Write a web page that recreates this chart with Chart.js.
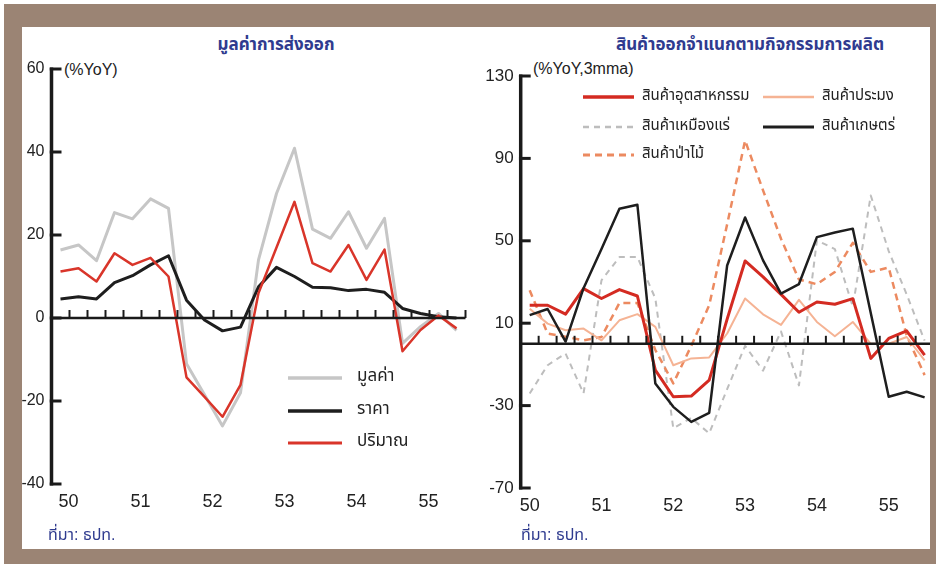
<!DOCTYPE html>
<html lang="th">
<head>
<meta charset="utf-8">
<title>การส่งออก</title>
<script src="https://cdn.jsdelivr.net/npm/chart.js@4.4.1/dist/chart.umd.min.js"></script>
<style>
  html, body { margin: 0; padding: 0; background: #fff; }
  body { width: 936px; height: 564px; position: relative; overflow: hidden;
         font-family: "Liberation Sans", Arial, "Noto Sans Thai", Loma, Garuda, sans-serif; }
  #frame { position: absolute; left: 4px; top: 4px; width: 932px; height: 560px; background: #9b8474; }
  #panel { position: absolute; left: 22px; top: 27px; width: 908px; height: 522px; background: #fff; }
  canvas { position: absolute; top: 0; }
  #c1 { left: 0; }
  #c2 { left: 470px; }
  .title { position: absolute; font-weight: bold; color: #2f3b8f; font-size: 17px; line-height: 20px;
           white-space: nowrap; text-align: center; }
  .unit { position: absolute; color: #222; font-size: 16px; line-height: 20px; white-space: nowrap; }
  .src { position: absolute; color: #2f3b8f; font-size: 16px; line-height: 20px; white-space: nowrap; }
</style>
</head>
<body>
<div id="frame"></div>
<div id="panel"></div>
<div class="title" style="left:156px; top:35px; width:240px;">มูลค่าการส่งออก</div>
<div class="title" style="left:590px; top:35px; width:320px;">สินค้าออกจำแนกตามกิจกรรมการผลิต</div>
<div class="unit" style="left:64px; top:60px;">(%YoY)</div>
<div class="unit" style="left:533px; top:59px;">(%YoY,3mma)</div>
<canvas id="c1" width="470" height="564"></canvas>
<canvas id="c2" width="466" height="564"></canvas>
<div class="src" style="left:48px; top:525px;">ที่มา: ธปท.</div>
<div class="src" style="left:521px; top:525px;">ที่มา: ธปท.</div>

<script>
// Quarterly series, 2550 Q1 – 2555 Q3 (%YoY)
const yearLabels = ['50', '51', '52', '53', '54', '55'];

// Export value and its price / volume components
const exportValue  = [16.4, 17.6, 13.8, 25.4, 23.9, 28.7, 26.4, -11.0, -18.5, -26.0, -18.0, 14.0,
                      30.0, 40.9, 21.4, 19.2, 25.6, 16.8, 24.0, -6.1, -2.1, 1.1, -3.0];
const exportPrice  = [4.6, 5.1, 4.6, 8.5, 10.2, 12.8, 15.0, 4.3, -0.5, -3.1, -2.2, 7.5,
                      12.2, 10.0, 7.4, 7.3, 6.6, 6.9, 6.2, 2.3, 1.1, 0.3, 0.0];
const exportVolume = [11.2, 12.0, 8.8, 15.6, 12.8, 14.5, 10.0, -14.3, -19.0, -23.8, -16.1, 6.0,
                      17.0, 28.0, 13.2, 11.2, 17.6, 9.2, 16.5, -8.0, -2.9, 0.6, -2.5];

// Exports by production activity (%YoY, 3mma)
const industrial  = [18.7, 18.7, 14.4, 26.8, 22.0, 26.3, 23.2, -12.8, -25.7, -25.4, -17.6, 12.0,
                     40.2, 32.5, 24.0, 15.3, 20.3, 19.2, 21.9, -7.1, 2.6, 6.3, -5.5];
const fishery     = [17.0, 9.8, 6.6, 7.4, 1.7, 11.4, 14.4, 8.2, -10.4, -7.1, -6.6, 5.0,
                     22.0, 14.3, 9.2, 21.3, 10.6, 3.7, 10.6, 0.0, 0.0, 3.3, -8.0];
const mining      = [-24.1, -10.4, -4.7, -24.1, 30.8, 42.1, 42.1, 22.0, -41.0, -36.0, -43.5, -22.0,
                     -1.0, -13.0, 6.0, -20.2, 50.2, 46.0, 18.0, 72.0, 45.0, 24.0, 1.5];
const agriculture = [13.9, 16.9, 1.1, 27.0, 46.0, 65.6, 67.5, -19.3, -30.6, -37.9, -33.5, 38.0,
                     61.3, 40.5, 24.4, 29.0, 51.8, 54.0, 55.9, 15.0, -25.7, -23.3, -26.0];
const forestry    = [26.0, 5.0, 3.4, 1.7, 3.3, 19.8, 19.8, -3.0, -19.2, -1.0, 18.7, 58.0,
                     98.7, 74.5, 51.0, 31.2, 28.9, 34.9, 49.0, 34.9, 37.0, 4.0, -15.2];

const FONT = '"Liberation Sans", Arial, sans-serif';
const THAI = '"Noto Sans Thai", "Noto Sans Thai UI", Loma, Garuda, "Tlwg Typo", "DejaVu Sans", sans-serif';

const toPoints = arr => arr.map((v, i) => ({ x: i, y: v }));

// Axis drawn the way the printed chart does it: thick left spine with inward ticks,
// a heavy zero line carrying upward quarter ticks between the data points.
const axisMarks = {
  id: 'axisMarks',
  afterDatasetsDraw(chart, args, o) {
    const { ctx, chartArea: a, scales: { x, y } } = chart;
    ctx.save();
    ctx.strokeStyle = '#1a1a1a';
    ctx.lineCap = 'butt';
    const top = y.getPixelForValue(y.max), bot = y.getPixelForValue(y.min);
    ctx.lineWidth = 3.5;
    ctx.beginPath(); ctx.moveTo(a.left, top - 1.5); ctx.lineTo(a.left, bot + 1.5); ctx.stroke();
    ctx.lineWidth = 3;
    y.ticks.forEach(t => {
      const py = y.getPixelForValue(t.value);
      ctx.beginPath(); ctx.moveTo(a.left - 1.75, py); ctx.lineTo(a.left + o.yTick, py); ctx.stroke();
    });
    const y0 = y.getPixelForValue(0);
    ctx.lineWidth = 2.5;
    ctx.beginPath(); ctx.moveTo(a.left, y0); ctx.lineTo(a.right, y0); ctx.stroke();
    ctx.lineWidth = 2;
    for (let i = 0; i <= x.max; i++) {
      const px = x.getPixelForValue(i + 0.5);
      if (px > a.right + 0.5) break;
      ctx.beginPath(); ctx.moveTo(px, y0); ctx.lineTo(px, y0 - o.xTick); ctx.stroke();
    }
    ctx.restore();
  }
};

// Line-sample legend placed inside the plot
const lineLegend = {
  id: 'lineLegend',
  afterDraw(chart, args, o) {
    const ctx = chart.ctx;
    o.items.forEach(it => {
      const ds = chart.data.datasets[it.index];
      ctx.save();
      ctx.strokeStyle = ds.borderColor;
      ctx.lineWidth = ds.borderWidth + 0.5;
      ctx.setLineDash(ds.borderDash || []);
      ctx.beginPath(); ctx.moveTo(it.x, it.y); ctx.lineTo(it.x + o.sample, it.y); ctx.stroke();
      ctx.setLineDash([]);
      ctx.fillStyle = '#222';
      ctx.font = o.font;
      ctx.textBaseline = 'middle';
      ctx.fillText(ds.label, it.x + o.sample + o.gap, it.y);
      ctx.restore();
    });
  }
};

function buildChart(canvas, cfg) {
  return new Chart(canvas, {
    type: 'line',
    data: { datasets: cfg.datasets },
    plugins: [axisMarks, lineLegend],
    options: {
      responsive: false,
      animation: false,
      devicePixelRatio: 1,
      layout: { padding: cfg.padding },
      elements: { point: { radius: 0 }, line: { tension: 0, borderJoinStyle: 'round' } },
      scales: {
        x: {
          type: 'linear', min: -0.5, max: cfg.xMax,
          grid: { display: false, drawTicks: false }, border: { display: false },
          afterBuildTicks: s => { s.ticks = yearLabels.map((_, k) => ({ value: 4 * k + cfg.labelShift })); },
          afterFit: s => { s.height = 30; },
          ticks: { callback: (v, i) => yearLabels[i], color: '#222', font: { family: FONT, size: 18 },
                   padding: 7, autoSkip: false, maxRotation: 0 }
        },
        y: {
          min: cfg.yMin, max: cfg.yMax,
          grid: { display: false, drawTicks: false }, border: { display: false },
          afterFit: s => { s.width = cfg.yWidth; },
          ticks: { stepSize: cfg.yStep, color: '#222', font: { family: FONT, size: cfg.ySize }, padding: 7 }
        }
      },
      plugins: {
        legend: { display: false },
        tooltip: { enabled: false },
        axisMarks: { yTick: 10, xTick: 8 },
        lineLegend: cfg.legend
      }
    }
  });
}

buildChart(document.getElementById('c1'), {
  xMax: 22.5, labelShift: 0.45, yMin: -40, yMax: 60, yStep: 20, yWidth: 51.5, ySize: 16,
  padding: { left: 0, right: 4.5, top: 69, bottom: 50 },
  datasets: [
    { label: 'ปริมาณ', data: toPoints(exportVolume), borderColor: '#d9352a', borderWidth: 2.5, order: 0 },
    { label: 'ราคา', data: toPoints(exportPrice), borderColor: '#1e1e1e', borderWidth: 3, order: 1 },
    { label: 'มูลค่า', data: toPoints(exportValue), borderColor: '#c6c6c6', borderWidth: 3, order: 2 }
  ],
  legend: {
    sample: 54, gap: 15, font: '17px ' + THAI,
    items: [ { index: 2, x: 288, y: 378 }, { index: 1, x: 288, y: 411 }, { index: 0, x: 288, y: 443 } ]
  }
});

buildChart(document.getElementById('c2'), {
  xMax: 22.3, labelShift: 0, yMin: -70, yMax: 130, yStep: 40, yWidth: 50.7, ySize: 17,
  padding: { left: 0, right: 6, top: 76, bottom: 46 },
  datasets: [
    { label: 'สินค้าเกษตร่', data: toPoints(agriculture), borderColor: '#1e1e1e', borderWidth: 2.5, order: 0 },
    { label: 'สินค้าอุตสาหกรรม', data: toPoints(industrial), borderColor: '#d42b22', borderWidth: 3, order: 1 },
    { label: 'สินค้าประมง', data: toPoints(fishery), borderColor: '#f5b394', borderWidth: 2, order: 2 },
    { label: 'สินค้าป่าไม้', data: toPoints(forestry), borderColor: '#ec8a60', borderWidth: 2.5, borderDash: [7, 5], order: 3 },
    { label: 'สินค้าเหมืองแร่', data: toPoints(mining), borderColor: '#bdbdbd', borderWidth: 2, borderDash: [6, 5], order: 4 }
  ],
  legend: {
    sample: 51, gap: 8, font: '15px ' + THAI,
    items: [
      { index: 1, x: 113, y: 97 }, { index: 2, x: 293, y: 97 },
      { index: 4, x: 113, y: 127 }, { index: 0, x: 293, y: 127 },
      { index: 3, x: 113, y: 155 }
    ]
  }
});
</script>
</body>
</html>
